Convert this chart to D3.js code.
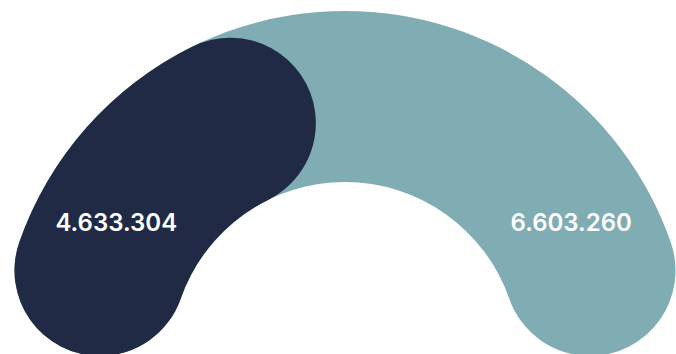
<!DOCTYPE html>
<html><head><meta charset="utf-8">
<script src="https://cdn.jsdelivr.net/npm/d3@7"></script>
<style>html,body{margin:0;padding:0;background:#fff;overflow:hidden}</style>
</head><body>
<svg id="chart" width="676" height="354"></svg>
<script>
const categories = ["A", "B"];
const values = [4633304, 6603260];
const colors = ["#202a45", "#80adb4"];

const W = 676, H = 354;
const cx = 345, cy = 356, R = 345, r = 174;
const overlapDeg = 8.8;

const svg = d3.select("#chart");
const g = svg.append("g").attr("transform", `translate(${cx},${cy})`);
const total = d3.sum(values);
const angle = d3.scaleLinear().domain([0, total]).range([-Math.PI / 2, Math.PI / 2]);
const arc = d3.arc().innerRadius(r).outerRadius(R).cornerRadius((R - r) / 2);

// teal: full background arc; dark: first value on top with rounded overlap
g.append("path")
  .attr("d", arc({startAngle: angle(0), endAngle: angle(total)}))
  .attr("fill", colors[1]);
g.append("path")
  .attr("d", arc({startAngle: angle(0), endAngle: angle(values[0]) + overlapDeg * Math.PI / 180}))
  .attr("fill", colors[0]);

const loc = d3.formatLocale({decimal: ",", thousands: ".", grouping: [3], currency: ["", ""]});
const fmt = loc.format(",d");
const mid = (R + r) / 2;
const labelAngles = [-60, 60];
const labelNudge = [-4, 1.5];
values.forEach((v, i) => {
  const a = labelAngles[i] * Math.PI / 180;
  g.append("text")
    .attr("x", mid * Math.sin(a) + labelNudge[i])
    .attr("y", -mid * Math.cos(a) - 4)
    .attr("text-anchor", "middle")
    .attr("dominant-baseline", "central")
    .attr("fill", "#fff")
    .attr("font-family", "Inter, 'Open Sans', sans-serif")
    .attr("font-weight", 600)
    .attr("font-size", 24)
    .text(fmt(v));
});
</script>
</body></html>
